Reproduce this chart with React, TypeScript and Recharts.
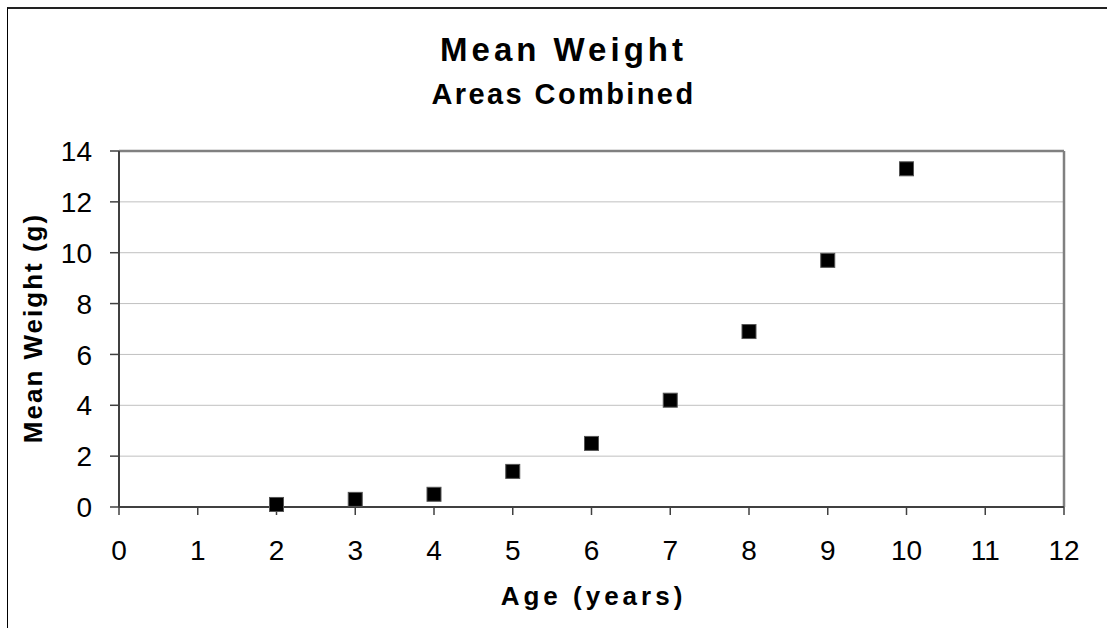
import React from 'react';
import { ScatterChart, Scatter, XAxis, YAxis, CartesianGrid, ReferenceLine } from 'recharts';

const ages = [2, 3, 4, 5, 6, 7, 8, 9, 10];
const meanWeights = [0.1, 0.3, 0.5, 1.4, 2.5, 4.2, 6.9, 9.7, 13.3];
const xTicks = [0, 1, 2, 3, 4, 5, 6, 7, 8, 9, 10, 11, 12];
const yTicks = [0, 2, 4, 6, 8, 10, 12, 14];

const FONT = '"Liberation Sans", Arial, sans-serif';

const data = ages.map((age, i) => ({ age, weight: meanWeights[i] }));

const XTick = (props: any) => {
  const { x, y, payload } = props;
  return (
    <text x={x} y={y} dy="0.71em" textAnchor="middle" fontSize={28} fontFamily={FONT} fill="#000">
      {payload.value}
    </text>
  );
};

const YTick = (props: any) => {
  const { x, y, payload } = props;
  return (
    <text x={x} y={y} dy="0.36em" textAnchor="end" fontSize={28} fontFamily={FONT} fill="#000">
      {payload.value}
    </text>
  );
};

// Excel-style filled square marker, 14px wide
const SquareMarker = (props: any) => {
  const { cx, cy } = props;
  if (cx == null || cy == null) return null;
  return <rect x={cx - 7} y={cy - 7} width={14} height={14} fill="#000" stroke="#555" strokeWidth={1} />;
};

export default function App() {
  return (
    <div style={{ position: 'absolute', left: 0, top: 0, width: 1107, height: 628, overflow: 'hidden', background: '#fff', fontFamily: FONT }}>
      {/* outer chart frame, runs off the right and bottom edges */}
      <div style={{ position: 'absolute', left: 7, top: 7, width: 1200, height: 700, borderLeft: '1px solid #000', borderTop: '2px solid #222' }} />

      <div style={{ position: 'absolute', left: 0, top: 0 }}>
        <ScatterChart width={1107} height={628} margin={{ top: 151, right: 43, bottom: 81, left: 59 }}>
          <CartesianGrid horizontal vertical={false} stroke="#c0c0c0" strokeWidth={1} />
          <XAxis
            type="number"
            dataKey="age"
            domain={[0, 12]}
            ticks={xTicks}
            interval={0}
            height={40}
            axisLine={{ stroke: '#404040', strokeWidth: 2 }}
            tickLine={{ stroke: '#404040', strokeWidth: 1.5 }}
            tickSize={8}
            tickMargin={25}
            tick={<XTick />}
          />
          <YAxis
            type="number"
            dataKey="weight"
            domain={[0, 14]}
            ticks={yTicks}
            interval={0}
            width={60}
            axisLine={{ stroke: '#404040', strokeWidth: 2 }}
            tickLine={{ stroke: '#404040', strokeWidth: 1.5 }}
            tickSize={9}
            tickMargin={18}
            tick={<YTick />}
          />
          <ReferenceLine y={14} stroke="#808080" strokeWidth={2.5} />
          <ReferenceLine x={12} stroke="#808080" strokeWidth={2.5} />
          <Scatter data={data} shape={SquareMarker} fill="#000" isAnimationActive={false} />
        </ScatterChart>
      </div>

      <div style={{ position: 'absolute', left: 0, width: 1127, top: 30, textAlign: 'center', fontSize: 33, fontWeight: 'bold', letterSpacing: 4, color: '#000', lineHeight: '40px' }}>
        Mean Weight
      </div>
      <div style={{ position: 'absolute', left: 0, width: 1127, top: 77, textAlign: 'center', fontSize: 29, fontWeight: 'bold', letterSpacing: 2.4, color: '#000', lineHeight: '34px' }}>
        Areas Combined
      </div>
      <div style={{ position: 'absolute', left: 119, width: 949, top: 580, textAlign: 'center', fontSize: 26, fontWeight: 'bold', letterSpacing: 4, color: '#000', lineHeight: '32px' }}>
        Age (years)
      </div>
      <div
        style={{
          position: 'absolute',
          left: 33 - 150,
          top: 328 - 16,
          width: 300,
          height: 32,
          transform: 'rotate(-90deg)',
          textAlign: 'center',
          fontSize: 26,
          fontWeight: 'bold',
          letterSpacing: 2,
          color: '#000',
          lineHeight: '32px',
        }}
      >
        Mean Weight (g)
      </div>
    </div>
  );
}
